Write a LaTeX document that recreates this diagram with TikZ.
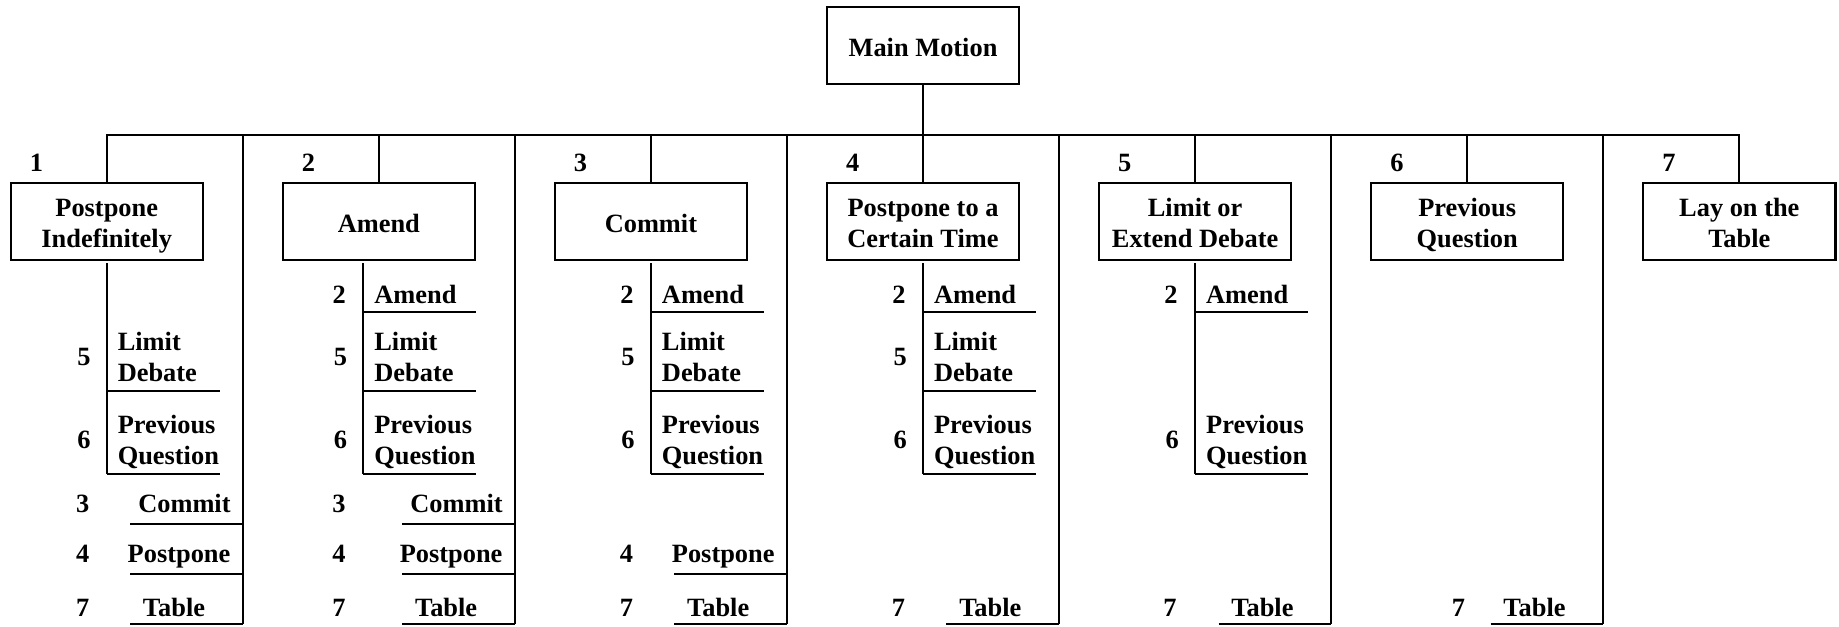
\documentclass[tikz,border=0pt]{standalone}
\usepackage{fontspec}
\setmainfont{Liberation Serif}
\newcommand\twoline[2]{\rule{0pt}{12.9pt}#1\\#2\strut}
\begin{document}
\begin{tikzpicture}[x=0.5pt,y=-0.5pt,line width=0.9pt,
  txt/.style={font=\fontsize{11.25}{13.3}\selectfont\bfseries,inner sep=0pt,
    execute at begin node={\rule{0pt}{12.9pt}},execute at end node={\strut}},
  motion/.style={txt,draw,minimum width=82pt,minimum height=33pt,align=center},
  num/.style={txt},
  item/.style={txt,anchor=west,align=left}]
\useasboundingbox (0,0) rectangle (1568,534);
\coordinate (bus) at (0,115.1);
% main motion and the seven motions
\node[motion] (mm) at (787,38.9) {Main Motion};
\node[motion] (b1) at (91,189) {\twoline{Postpone}{Indefinitely}};
\node[motion] (b2) at (323,189) {Amend};
\node[motion] (b3) at (555,189) {Commit};
\node[motion] (b4) at (787,189) {\twoline{Postpone to a}{Certain Time}};
\node[motion] (b5) at (1019,189) {\twoline{Limit or}{Extend Debate}};
\node[motion] (b6) at (1251,189) {\twoline{Previous}{Question}};
\node[motion] (b7) at (1483,189) {\twoline{Lay on the}{Table}};
\draw (mm.south) -- (mm.south |- bus);
\draw (b1.north) -- (b1.north |- bus) -- (b7.north |- bus) -- (b7.north);
\foreach \i in {2,...,6} {\draw (b\i.north) -- (b\i.north |- bus);}
\foreach \i in {1,...,7} {\node[num] (t\i) at ({31+232*(\i-1)},137) {\i};}
% separators
\foreach \i in {1,...,6} {
  \coordinate (st\i) at ({207+232*(\i-1)},115.1);
  \coordinate (sb\i) at ({207+232*(\i-1)},532.3);
  \draw (st\i) -- (sb\i);
}
% sub verticals
\foreach \i/\v in {1/91,2/309.8,3/555,4/787,5/1019} {
  \coordinate (vt\i) at (\v,224.3);
  \coordinate (vb\i) at (\v,404.5);
  \draw (vt\i) -- (vb\i);
}
% Amend
\foreach \i/\v in {2/309.8,3/555,4/787,5/1019} {
  \node[num] (amn\i) at ({\v-20.5},250.1) {2};
  \node[item] (am\i) at ({\v+8.5},250.1) {Amend};
  \coordinate (amu\i) at ({\v+96.4},265.7);
  \draw (\v,265.7) -- (amu\i);
}
% Limit Debate
\foreach \i/\v in {1/91,2/309.8,3/555,4/787} {
  \node[num] (ldn\i) at ({\v-19.5},302.6) {5};
  \node[item] (ld\i) at ({\v+8.5},303.2) {\twoline{Limit}{Debate}};
  \coordinate (ldu\i) at ({\v+96.4},333.4);
  \draw (\v,333.4) -- (ldu\i);
}
% Previous Question
\foreach \i/\v in {1/91,2/309.8,3/555,4/787,5/1019} {
  \node[num] (pqn\i) at ({\v-19.5},373.8) {6};
  \node[item] (pq\i) at ({\v+8.5},373.8) {\twoline{Previous}{Question}};
  \coordinate (pqu\i) at ({\v+96.4},404.5);
  \draw (vb\i) -- (pqu\i);
}
% bottom entries
\foreach \i/\nx in {1/70.5,2/289} {
  \pgfmathsetmacro\c{91+232*(\i-1)}
  \node[num] (cmn\i) at (\nx,427.8) {3};
  \node[item] (cm\i) at ({\c+26},427.8) {Commit};
  \coordinate (cmu\i) at ({\c+20},446.5);
  \draw (cmu\i) -- (cmu\i -| st\i);
}
\foreach \i/\nx in {1/70.5,2/289,3/534.2} {
  \pgfmathsetmacro\c{91+232*(\i-1)}
  \node[num] (ppn\i) at (\nx,471) {4};
  \node[item] (pp\i) at ({\c+17},471) {Postpone};
  \coordinate (ppu\i) at ({\c+20},489.7);
  \draw (ppu\i) -- (ppu\i -| st\i);
}
\foreach \i/\nx in {1/70.5,2/289,3/534.2,4/766.1,5/997.6,6/1243.5} {
  \pgfmathsetmacro\c{91+232*(\i-1)}
  \node[num] (tbn\i) at (\nx,516.4) {7};
  \node[item] (tb\i) at ({\c+30},516.4) {Table};
  \coordinate (tbu\i) at ({\c+20},532.3);
  \draw (tbu\i) -- (sb\i);
}
\end{tikzpicture}
\end{document}
